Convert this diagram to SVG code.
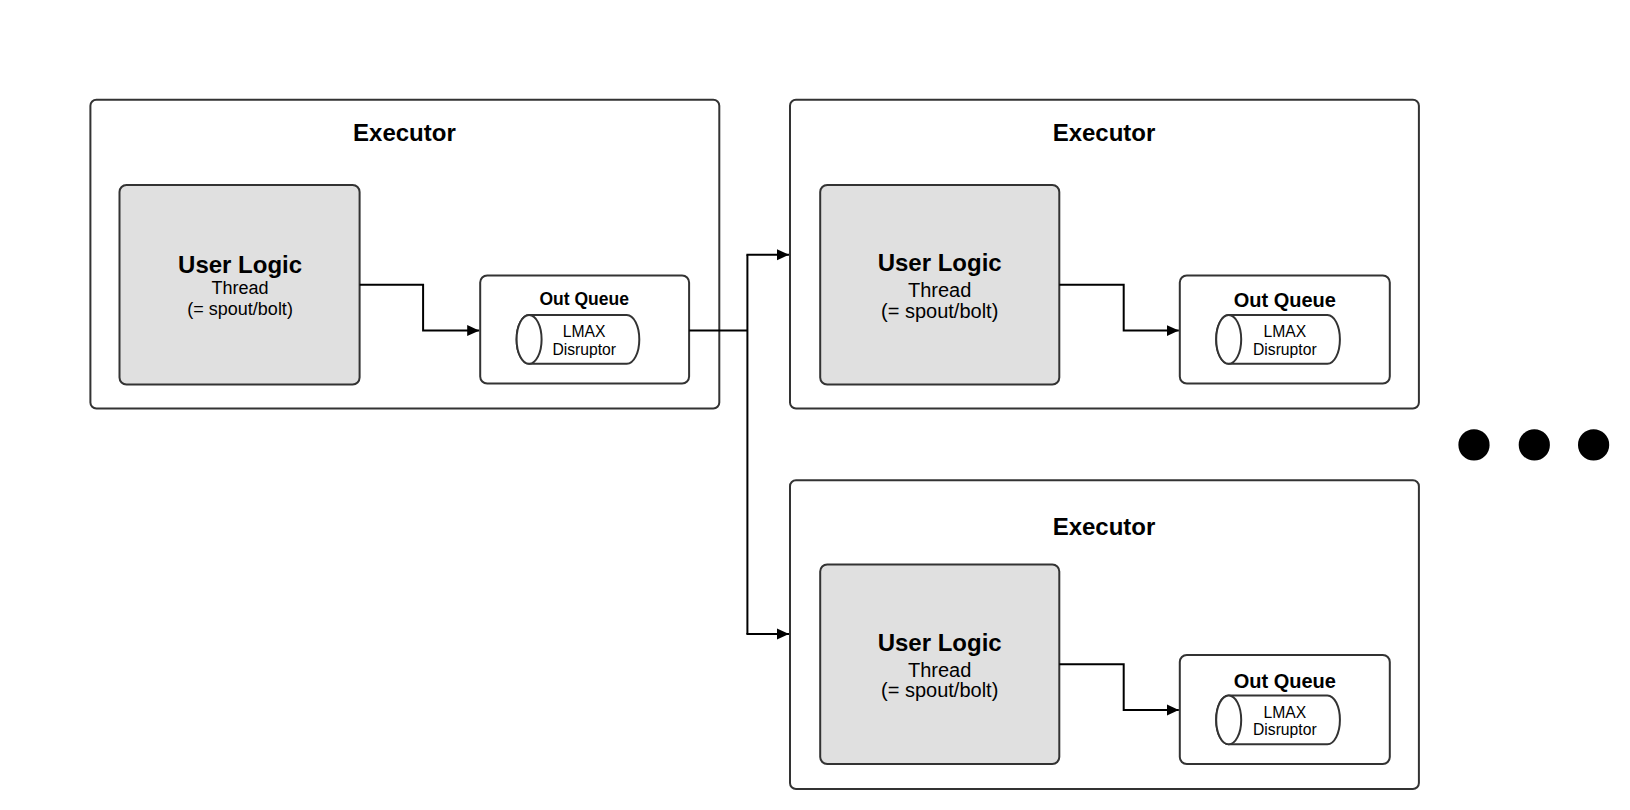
<svg xmlns="http://www.w3.org/2000/svg" width="1630" height="810" viewBox="0 0 1630 810">
<defs>
<style>
.exec{fill:#fff;stroke:#333;stroke-width:2}
.ul{fill:#e0e0e0;stroke:#333;stroke-width:2}
.oq{fill:#fff;stroke:#333;stroke-width:2}
.cyl{fill:#fff;stroke:#333;stroke-width:2}
.conn{fill:none;stroke:#000;stroke-width:2}
text{font-family:"Liberation Sans",Arial,sans-serif;fill:#000;text-anchor:middle}
.t1{font-size:24px;font-weight:bold}
.t2{font-size:24px;font-weight:bold}
.t3{font-size:18px}
.t3b{font-size:20px}
.t4{font-size:17.5px;font-weight:bold}
.t4b{font-size:20px;font-weight:bold}
.t5{font-size:15.7px}
</style>
<marker id="arr" markerWidth="12" markerHeight="12" refX="12" refY="6" orient="auto" markerUnits="userSpaceOnUse">
<path d="M0,0.5 L12,6 L0,11.5 z" fill="#000"/>
</marker>
</defs>
<rect width="1630" height="810" fill="#fff"/>

<g id="executor1">
<rect class="exec" x="90.4" y="99.8" width="628.9" height="308.7" rx="6"/>
<text class="t1" x="404.4" y="141">Executor</text>
<g id="userlogic1">
<rect class="ul" x="119.5" y="185" width="240.1" height="199.6" rx="7"/>
<text class="t2" x="240.1" y="272.6">User Logic</text>
<text class="t3" x="240.1" y="293.5">Thread</text>
<text class="t3" x="240.1" y="315.4">(= spout/bolt)</text>
</g>
<g id="outqueue1">
<rect class="oq" x="480.2" y="275.5" width="208.9" height="108.1" rx="7"/>
<text class="t4" x="584.2" y="305.2">Out Queue</text>
<path class="cyl" d="M529.1,315 L626.8,315 A12.5,24.4 0 0 1 626.8,363.8 L529.1,363.8 A12.5,24.4 0 0 1 529.1,315 Z"/>
<ellipse class="cyl" cx="529.1" cy="339.4" rx="12.5" ry="24.4"/>
<text class="t5" x="584.2" y="337.2">LMAX</text>
<text class="t5" x="584.2" y="354.9">Disruptor</text>
</g>
</g>

<g id="executor2">
<rect class="exec" x="790" y="99.8" width="628.9" height="308.7" rx="6"/>
<text class="t1" x="1104" y="141">Executor</text>
<g id="userlogic2">
<rect class="ul" x="820.2" y="185" width="239.1" height="199.6" rx="7"/>
<text class="t2" x="939.7" y="270.6">User Logic</text>
<text class="t3b" x="939.7" y="296.8">Thread</text>
<text class="t3b" x="939.7" y="317.5">(= spout/bolt)</text>
</g>
<g id="outqueue2">
<rect class="oq" x="1179.8" y="275.5" width="210" height="108.1" rx="7"/>
<text class="t4b" x="1284.8" y="307.2">Out Queue</text>
<path class="cyl" d="M1228.7,315 L1327.4,315 A12.5,24.4 0 0 1 1327.4,363.8 L1228.7,363.8 A12.5,24.4 0 0 1 1228.7,315 Z"/>
<ellipse class="cyl" cx="1228.7" cy="339.4" rx="12.5" ry="24.4"/>
<text class="t5" x="1284.8" y="337.2">LMAX</text>
<text class="t5" x="1284.8" y="354.9">Disruptor</text>
</g>
</g>

<g id="executor3">
<rect class="exec" x="790" y="480.3" width="628.9" height="308.7" rx="6"/>
<text class="t1" x="1104" y="535">Executor</text>
<g id="userlogic3">
<rect class="ul" x="820.2" y="564.4" width="239.1" height="199.6" rx="7"/>
<text class="t2" x="939.7" y="651">User Logic</text>
<text class="t3b" x="939.7" y="677.2">Thread</text>
<text class="t3b" x="939.7" y="697">(= spout/bolt)</text>
</g>
<g id="outqueue3">
<rect class="oq" x="1179.8" y="654.9" width="210" height="109.1" rx="7"/>
<text class="t4b" x="1284.8" y="687.6">Out Queue</text>
<path class="cyl" d="M1228.7,695.4 L1327.4,695.4 A12.5,24.4 0 0 1 1327.4,744.3 L1228.7,744.3 A12.5,24.4 0 0 1 1228.7,695.4 Z"/>
<ellipse class="cyl" cx="1228.7" cy="719.9" rx="12.5" ry="24.4"/>
<text class="t5" x="1284.8" y="717.7">LMAX</text>
<text class="t5" x="1284.8" y="735.3">Disruptor</text>
</g>
</g>

<g id="dots">
<circle cx="1474" cy="444.9" r="15.6" fill="#000"/>
<circle cx="1534.3" cy="444.9" r="15.6" fill="#000"/>
<circle cx="1593.6" cy="444.9" r="15.6" fill="#000"/>
</g>

<g id="connectors">
<path class="conn" d="M359.7,284.8 H423.1 V330.6 H479.2" marker-end="url(#arr)"/>
<path class="conn" d="M689.2,330.6 H747.4"/>
<path class="conn" d="M747.4,254.7 V634.1"/>
<path class="conn" d="M746.4,254.7 H789" marker-end="url(#arr)"/>
<path class="conn" d="M746.4,634.1 H789" marker-end="url(#arr)"/>
<path class="conn" d="M1059.3,284.8 H1123.7 V330.6 H1178.8" marker-end="url(#arr)"/>
<path class="conn" d="M1059.3,664.2 H1123.7 V710 H1178.8" marker-end="url(#arr)"/>
</g>
</svg>
